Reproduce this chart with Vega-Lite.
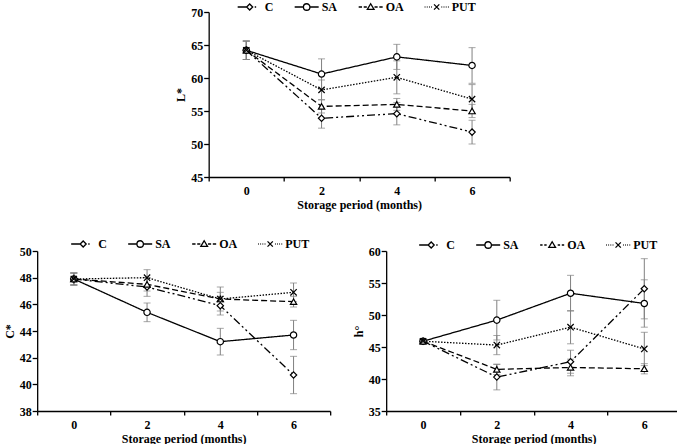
{
  "$schema": "https://vega.github.io/schema/vega-lite/v6.json",
  "padding": {"left": 0, "top": 0, "right": 0, "bottom": 0},
  "background": "white",
  "center": true,
  "spacing": 27,
  "datasets": {
    "L": [
      {"series": "C", "month": 0, "mean": 64.2, "sd": 1.4},
      {"series": "C", "month": 2, "mean": 53.9, "sd": 1.5},
      {"series": "C", "month": 4, "mean": 54.6, "sd": 1.7},
      {"series": "C", "month": 6, "mean": 51.8, "sd": 1.8},
      {"series": "SA", "month": 0, "mean": 64.2, "sd": 1.4},
      {"series": "SA", "month": 2, "mean": 60.6, "sd": 2.3},
      {"series": "SA", "month": 4, "mean": 63.2, "sd": 1.9},
      {"series": "SA", "month": 6, "mean": 61.9, "sd": 2.7},
      {"series": "OA", "month": 0, "mean": 64.2, "sd": 1.4},
      {"series": "OA", "month": 2, "mean": 55.7, "sd": 1.0},
      {"series": "OA", "month": 4, "mean": 56.0, "sd": 0.9},
      {"series": "OA", "month": 6, "mean": 55.0, "sd": 1.0},
      {"series": "PUT", "month": 0, "mean": 64.2, "sd": 1.4},
      {"series": "PUT", "month": 2, "mean": 58.2, "sd": 1.5},
      {"series": "PUT", "month": 4, "mean": 60.1, "sd": 2.5},
      {"series": "PUT", "month": 6, "mean": 56.8, "sd": 2.2}
    ],
    "Cs": [
      {"series": "C", "month": 0, "mean": 47.9, "sd": 0.45},
      {"series": "C", "month": 2, "mean": 47.3, "sd": 0.7},
      {"series": "C", "month": 4, "mean": 45.9, "sd": 0.7},
      {"series": "C", "month": 6, "mean": 40.7, "sd": 1.4},
      {"series": "SA", "month": 0, "mean": 47.9, "sd": 0.45},
      {"series": "SA", "month": 2, "mean": 45.4, "sd": 0.7},
      {"series": "SA", "month": 4, "mean": 43.2, "sd": 1.0},
      {"series": "SA", "month": 6, "mean": 43.7, "sd": 1.1},
      {"series": "OA", "month": 0, "mean": 47.9, "sd": 0.45},
      {"series": "OA", "month": 2, "mean": 47.5, "sd": 0.5},
      {"series": "OA", "month": 4, "mean": 46.4, "sd": 0.5},
      {"series": "OA", "month": 6, "mean": 46.2, "sd": 0.4},
      {"series": "PUT", "month": 0, "mean": 47.9, "sd": 0.45},
      {"series": "PUT", "month": 2, "mean": 48.0, "sd": 0.6},
      {"series": "PUT", "month": 4, "mean": 46.4, "sd": 0.9},
      {"series": "PUT", "month": 6, "mean": 46.9, "sd": 0.7}
    ],
    "H": [
      {"series": "C", "month": 0, "mean": 45.9, "sd": 0.3},
      {"series": "C", "month": 2, "mean": 40.3, "sd": 2.0},
      {"series": "C", "month": 4, "mean": 42.7, "sd": 1.8},
      {"series": "C", "month": 6, "mean": 54.1, "sd": 4.7},
      {"series": "SA", "month": 0, "mean": 45.9, "sd": 0.3},
      {"series": "SA", "month": 2, "mean": 49.2, "sd": 3.1},
      {"series": "SA", "month": 4, "mean": 53.4, "sd": 2.8},
      {"series": "SA", "month": 6, "mean": 51.8, "sd": 3.7},
      {"series": "OA", "month": 0, "mean": 45.9, "sd": 0.3},
      {"series": "OA", "month": 2, "mean": 41.5, "sd": 0.8},
      {"series": "OA", "month": 4, "mean": 41.8, "sd": 1.3},
      {"series": "OA", "month": 6, "mean": 41.6, "sd": 0.8},
      {"series": "PUT", "month": 0, "mean": 45.9, "sd": 0.3},
      {"series": "PUT", "month": 2, "mean": 45.3, "sd": 1.5},
      {"series": "PUT", "month": 4, "mean": 48.1, "sd": 2.6},
      {"series": "PUT", "month": 6, "mean": 44.7, "sd": 2.6}
    ]
  },
  "config": {
    "view": {"stroke": null},
    "axis": {
      "labelFont": "Liberation Serif", "labelFontWeight": "bold", "labelFontSize": 12, "labelColor": "black",
      "titleFont": "Liberation Serif", "titleFontWeight": "bold", "titleFontSize": 12, "titleColor": "black",
      "domainColor": "black", "tickColor": "black", "domainWidth": 1.3, "tickWidth": 1.3, "grid": false, "labelOverlap": false
    },
    "axisX": {
      "labelExpr": "datum.value > 0 ? format(datum.value - 1, 'd') : ''",
      "tickSize": 4, "labelPadding": 4, "titlePadding": 3, "labelFlush": false, "labelBound": false
    },
    "axisY": {"tickSize": 5, "labelPadding": 1, "titlePadding": 3, "labelOverlap": false, "labelFlush": false, "labelBound": false},
    "legend": {
      "labelFont": "Liberation Serif", "labelFontWeight": "bold", "labelFontSize": 12, "labelColor": "black",
      "symbolSize": 144, "symbolStrokeWidth": 1.3, "labelOffset": 2, "columnPadding": 18, "direction": "horizontal", "orient": "none"
    }
  },
  "vconcat": [
    {
      "width": 301, "height": 165,
      "data": {"name": "L"},
      "layer": [
        {
          "mark": {"type": "errorbar", "color": "#808080", "thickness": 1, "ticks": {"size": 7, "thickness": 1, "color": "#808080"}},
          "encoding": {
            "x": {"field": "month", "type": "quantitative", "scale": {"domain": [-1, 7], "nice": false},
                  "axis": {"title": "Storage period (months)", "values": [-1, 1, 3, 5, 7], "tickCount": 20, "labelOffset": -37.6}},
            "y": {"field": "mean", "type": "quantitative", "scale": {"domain": [45, 70], "nice": false, "zero": false},
                  "axis": {"title": "L*", "values": [45, 50, 55, 60, 65, 70], "tickCount": 20, "labelOverlap": false, "format": "d"}},
            "yError": {"field": "sd"},
            "detail": {"field": "series"}
          }
        },
        {
          "mark": {"type": "line", "color": "black", "strokeWidth": 1.3},
          "encoding": {
            "x": {"field": "month", "type": "quantitative"},
            "y": {"field": "mean", "type": "quantitative"},
            "strokeDash": {"field": "series", "type": "nominal", "legend": null,
                           "scale": {"domain": ["C", "SA", "OA", "PUT"], "range": [[8, 3, 2, 3, 2, 3], [1, 0], [6, 3], [1.5, 1.5]]}}
          }
        },
        {
          "mark": {"type": "point", "filled": false, "color": "black", "fill": "white", "strokeWidth": 1.2, "size": 40, "opacity": 1},
          "encoding": {
            "x": {"field": "month", "type": "quantitative"},
            "y": {"field": "mean", "type": "quantitative"},
            "shape": {"field": "series", "type": "nominal", "legend": null,
                      "scale": {"domain": ["C", "SA", "OA", "PUT"], "range": ["diamond", "circle", "triangle-up", "M-1,-1L1,1M-1,1L1,-1"]}}
          }
        },
        {
          "mark": {"type": "point", "filled": false, "color": "black", "fill": "white", "strokeWidth": 1.3, "size": 0, "opacity": 1},
          "encoding": {
            "x": {"field": "month", "type": "quantitative"},
            "y": {"field": "mean", "type": "quantitative"},
            "shape": {"field": "series", "type": "nominal",
                      "scale": {"domain": ["C", "SA", "OA", "PUT"], "range": [
                        "M-3,0H-1.56M-1.5,0L-1,-0.5L-0.5,0L-1,0.5ZM-0.16,0H0.08",
                        "M-3,0H-1.54M-0.46,0H1M-0.46,0A0.54,0.54,0,1,1,-1.54,0A0.54,0.54,0,1,1,-0.46,0Z",
                        "M-3,0H-2.44M-2.16,0H-1.64M-1,-0.54L-0.44,0.4L-1.56,0.4ZM-0.36,0H0.16M0.44,0H1",
                        "M-3,0H-2.88M-2.64,0H-2.52M-2.28,0H-2.16M-1.92,0H-1.8M-1.44,-0.44L-0.56,0.44M-1.44,0.44L-0.56,-0.44M-0.2,0H-0.08M0.16,0H0.28M0.52,0H0.64M0.88,0H1"]},
                      "legend": {"orient": "none", "legendX": 40, "legendY": -12, "title": null}}
          }
        }
      ],
      "resolve": {"scale": {"shape": "independent"}}
    },
    {
      "hconcat": [
        {
          "width": 293, "height": 160,
          "data": {"name": "Cs"},
          "layer": [
            {
              "mark": {"type": "errorbar", "color": "#808080", "thickness": 1, "ticks": {"size": 7, "thickness": 1, "color": "#808080"}},
              "encoding": {
                "x": {"field": "month", "type": "quantitative", "scale": {"domain": [-1, 7], "nice": false},
                      "axis": {"title": "Storage period (months)", "values": [-1, 1, 3, 5, 7], "tickCount": 20, "labelOffset": -36.6}},
                "y": {"field": "mean", "type": "quantitative", "scale": {"domain": [38, 50], "nice": false, "zero": false},
                      "axis": {"title": "C*", "values": [38, 40, 42, 44, 46, 48, 50], "tickCount": 20, "labelOverlap": false, "format": "d"}},
                "yError": {"field": "sd"},
                "detail": {"field": "series"}
              }
            },
            {
              "mark": {"type": "line", "color": "black", "strokeWidth": 1.3},
              "encoding": {
                "x": {"field": "month", "type": "quantitative"},
                "y": {"field": "mean", "type": "quantitative"},
                "strokeDash": {"field": "series", "type": "nominal", "legend": null,
                               "scale": {"domain": ["C", "SA", "OA", "PUT"], "range": [[8, 3, 2, 3, 2, 3], [1, 0], [6, 3], [1.5, 1.5]]}}
              }
            },
            {
              "mark": {"type": "point", "filled": false, "color": "black", "fill": "white", "strokeWidth": 1.2, "size": 40, "opacity": 1},
              "encoding": {
                "x": {"field": "month", "type": "quantitative"},
                "y": {"field": "mean", "type": "quantitative"},
                "shape": {"field": "series", "type": "nominal", "legend": null,
                          "scale": {"domain": ["C", "SA", "OA", "PUT"], "range": ["diamond", "circle", "triangle-up", "M-1,-1L1,1M-1,1L1,-1"]}}
              }
            },
            {
              "mark": {"type": "point", "filled": false, "color": "black", "fill": "white", "strokeWidth": 1.3, "size": 0, "opacity": 1},
              "encoding": {
                "x": {"field": "month", "type": "quantitative"},
                "y": {"field": "mean", "type": "quantitative"},
                "shape": {"field": "series", "type": "nominal",
                          "scale": {"domain": ["C", "SA", "OA", "PUT"], "range": [
                            "M-3,0H-1.56M-1.5,0L-1,-0.5L-0.5,0L-1,0.5ZM-0.16,0H0.08",
                            "M-3,0H-1.54M-0.46,0H1M-0.46,0A0.54,0.54,0,1,1,-1.54,0A0.54,0.54,0,1,1,-0.46,0Z",
                            "M-3,0H-2.44M-2.16,0H-1.64M-1,-0.54L-0.44,0.4L-1.56,0.4ZM-0.36,0H0.16M0.44,0H1",
                            "M-3,0H-2.88M-2.64,0H-2.52M-2.28,0H-2.16M-1.92,0H-1.8M-1.44,-0.44L-0.56,0.44M-1.44,0.44L-0.56,-0.44M-0.2,0H-0.08M0.16,0H0.28M0.52,0H0.64M0.88,0H1"]},
                          "legend": {"orient": "none", "legendX": 45, "legendY": -14, "title": null}}
              }
            }
          ],
          "resolve": {"scale": {"shape": "independent"}}
        },
        {
          "width": 295, "height": 160,
          "data": {"name": "H"},
          "layer": [
            {
              "mark": {"type": "errorbar", "color": "#808080", "thickness": 1, "ticks": {"size": 7, "thickness": 1, "color": "#808080"}},
              "encoding": {
                "x": {"field": "month", "type": "quantitative", "scale": {"domain": [-1, 7], "nice": false},
                      "axis": {"title": "Storage period (months)", "values": [-1, 1, 3, 5, 7], "tickCount": 20, "labelOffset": -36.9}},
                "y": {"field": "mean", "type": "quantitative", "scale": {"domain": [35, 60], "nice": false, "zero": false},
                      "axis": {"title": "h°", "values": [35, 40, 45, 50, 55, 60], "tickCount": 20, "labelOverlap": false, "format": "d"}},
                "yError": {"field": "sd"},
                "detail": {"field": "series"}
              }
            },
            {
              "mark": {"type": "line", "color": "black", "strokeWidth": 1.3},
              "encoding": {
                "x": {"field": "month", "type": "quantitative"},
                "y": {"field": "mean", "type": "quantitative"},
                "strokeDash": {"field": "series", "type": "nominal", "legend": null,
                               "scale": {"domain": ["C", "SA", "OA", "PUT"], "range": [[8, 3, 2, 3, 2, 3], [1, 0], [4, 2], [1.5, 1.5]]}}
              }
            },
            {
              "mark": {"type": "point", "filled": false, "color": "black", "fill": "white", "strokeWidth": 1.2, "size": 40, "opacity": 1},
              "encoding": {
                "x": {"field": "month", "type": "quantitative"},
                "y": {"field": "mean", "type": "quantitative"},
                "shape": {"field": "series", "type": "nominal", "legend": null,
                          "scale": {"domain": ["C", "SA", "OA", "PUT"], "range": ["diamond", "circle", "triangle-up", "M-1,-1L1,1M-1,1L1,-1"]}}
              }
            },
            {
              "mark": {"type": "point", "filled": false, "color": "black", "fill": "white", "strokeWidth": 1.3, "size": 0, "opacity": 1},
              "encoding": {
                "x": {"field": "month", "type": "quantitative"},
                "y": {"field": "mean", "type": "quantitative"},
                "shape": {"field": "series", "type": "nominal",
                          "scale": {"domain": ["C", "SA", "OA", "PUT"], "range": [
                            "M-3,0H-1.56M-1.5,0L-1,-0.5L-0.5,0L-1,0.5ZM-0.16,0H0.08",
                            "M-3,0H-1.54M-0.46,0H1M-0.46,0A0.54,0.54,0,1,1,-1.54,0A0.54,0.54,0,1,1,-0.46,0Z",
                            "M-3,0H-2.6M-2.32,0H-1.92M-1,-0.54L-0.44,0.4L-1.56,0.4ZM-0.08,0H0.32M0.6,0H1",
                            "M-3,0H-2.88M-2.64,0H-2.52M-2.28,0H-2.16M-1.92,0H-1.8M-1.44,-0.44L-0.56,0.44M-1.44,0.44L-0.56,-0.44M-0.2,0H-0.08M0.16,0H0.28M0.52,0H0.64M0.88,0H1"]},
                          "legend": {"orient": "none", "legendX": 44, "legendY": -13, "title": null}}
              }
            }
          ],
          "resolve": {"scale": {"shape": "independent"}}
        }
      ],
      "spacing": 18
    }
  ]
}
